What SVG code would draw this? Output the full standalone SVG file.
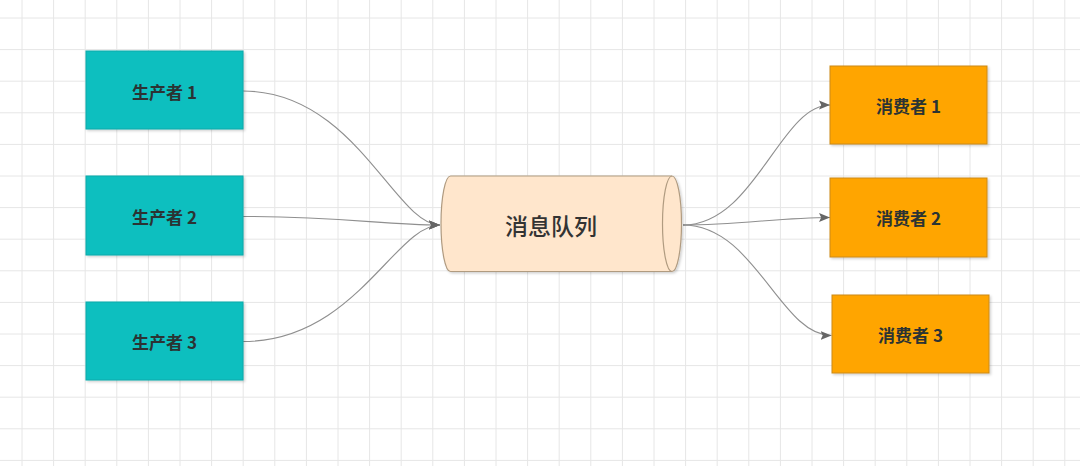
<svg xmlns="http://www.w3.org/2000/svg" width="1080" height="466" viewBox="0 0 1080 466">
<defs>
<style>
.grid{stroke:#e6e6e6;stroke-width:1;fill:none}
.prod{fill:#0abfbf;stroke:#0aa9aa;stroke-width:1}
.cons{fill:#ffa500;stroke:#cc8a10;stroke-width:1}
.lbl{font-family:"Noto Sans CJK SC","Noto Sans",sans-serif;font-size:17px;font-weight:600;fill:#2b3333;text-anchor:middle;dominant-baseline:central}
.qlbl{font-size:23px;font-weight:500;fill:#333333}
.edge{fill:none;stroke:#8f8f8f;stroke-width:1.1}
</style>
<marker id="arr" markerUnits="userSpaceOnUse" markerWidth="11" markerHeight="11" viewBox="0 0 11 10" refX="11" refY="5" orient="auto">
<path d="M0,0.5 L11,5 L0,9.5 L2.2,5 Z" fill="#666666"/>
</marker>
<filter id="sh" x="-10%" y="-10%" width="130%" height="130%">
<feDropShadow dx="1.5" dy="1.5" stdDeviation="1" flood-color="#000" flood-opacity="0.18"/>
</filter>
</defs>
<rect width="1080" height="466" fill="#ffffff"/>
<path class="grid" d="M22,0V466M53.6,0V466M85.2,0V466M116.8,0V466M148.4,0V466M180,0V466M211.6,0V466M243.2,0V466M274.8,0V466M306.4,0V466M338,0V466M369.6,0V466M401.2,0V466M432.8,0V466M464.4,0V466M496,0V466M527.6,0V466M559.2,0V466M590.8,0V466M622.4,0V466M654,0V466M685.6,0V466M717.2,0V466M748.8,0V466M780.4,0V466M812,0V466M843.6,0V466M875.2,0V466M906.8,0V466M938.4,0V466M970,0V466M1001.6,0V466M1033.2,0V466M1064.8,0V466M0,18H1080M0,49.6H1080M0,81.2H1080M0,112.8H1080M0,144.4H1080M0,176H1080M0,207.6H1080M0,239.2H1080M0,270.8H1080M0,302.4H1080M0,334H1080M0,365.6H1080M0,397.2H1080M0,428.8H1080M0,460.4H1080"/>
<g id="connectors">
<path class="edge" d="M243,91 C355,91 395,225 440,225" marker-end="url(#arr)"/>
<path class="edge" d="M243,216.5 C340,216.5 385,225 440,225" marker-end="url(#arr)"/>
<path class="edge" d="M243,341.5 C355,341.5 395,225 440,225" marker-end="url(#arr)"/>
<path class="edge" d="M683,225 C755,225 780,105 830,105" marker-end="url(#arr)"/>
<path class="edge" d="M683,225 C740,225 780,217.5 830,217.5" marker-end="url(#arr)"/>
<path class="edge" d="M683,225 C755,225 780,335.5 831.5,335.5" marker-end="url(#arr)"/>
</g>
<g id="producer1">
<rect class="prod" x="86" y="51" width="157" height="78" filter="url(#sh)"/>
<text class="lbl" x="164.5" y="91">生产者 1</text>
</g>
<g id="producer2">
<rect class="prod" x="86" y="176" width="157" height="79" filter="url(#sh)"/>
<text class="lbl" x="164.5" y="216">生产者 2</text>
</g>
<g id="producer3">
<rect class="prod" x="86" y="302" width="157" height="78" filter="url(#sh)"/>
<text class="lbl" x="164.5" y="341.5">生产者 3</text>
</g>
<g id="queue">
<path d="M450.5,176 L672,176 A9.5,47.75 0 0 1 672,271.5 L450.5,271.5 A9.5,47.75 0 0 1 450.5,176 Z" fill="#ffe6cc" stroke="#b09b80" stroke-width="1.2" filter="url(#sh)"/>
<path d="M672,176 A9.5,47.75 0 0 0 672,271.5" fill="none" stroke="#b09b80" stroke-width="1.2"/>
<text class="lbl qlbl" x="551" y="225">消息队列</text>
</g>
<g id="consumer1">
<rect class="cons" x="830" y="66" width="157" height="78" filter="url(#sh)"/>
<text class="lbl" x="908.5" y="105">消费者 1</text>
</g>
<g id="consumer2">
<rect class="cons" x="830" y="178" width="157" height="79" filter="url(#sh)"/>
<text class="lbl" x="908.5" y="217.5">消费者 2</text>
</g>
<g id="consumer3">
<rect class="cons" x="832" y="295" width="157" height="78" filter="url(#sh)"/>
<text class="lbl" x="910.5" y="334">消费者 3</text>
</g>
</svg>
